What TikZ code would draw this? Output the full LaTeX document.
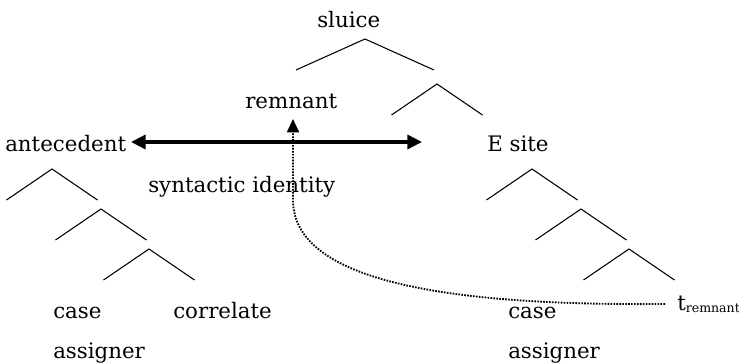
\documentclass[tikz,border=0pt]{standalone}
\usepackage{fontspec}
\setmainfont{DejaVu Serif}
\usetikzlibrary{arrows.meta}
\begin{document}
\begin{tikzpicture}[x=0.75pt,y=-0.75pt,
  txt/.style={anchor=base west, inner sep=0pt, font=\fontsize{16}{19}\selectfont},
  branch/.style={line width=0.8pt},
  idarrow/.style={line width=2.6pt,
    {Triangle[length=11pt,width=10.5pt]}-{Triangle[length=11pt,width=10.5pt]}},
  trace/.style={line width=1.4pt, dash pattern=on 1.2pt off 1pt,
    -{Triangle[length=10pt,width=9pt]}}]
\fill[white] (0,0) rectangle (739,364);
\useasboundingbox (0,0) rectangle (739,364);

% labels
\node[txt] (sluice) at (317,27) {sluice};
\node[txt] (remnant) at (245,108) {remnant};
\node[txt] (ante) at (5,151) {antecedent};
\node[txt] (esite) at (487,151) {E site};
\node[txt] (synid) at (148,192) {syntactic identity};
\node[txt] (caseL) at (53,318) {case};
\node[txt] (corr) at (173,318) {correlate};
\node[txt] (assL) at (53,358) {assigner};
\node[txt] (caseR) at (508,318) {case};
\node[txt] (assR) at (508,358) {assigner};
\node[txt] (trem) at (677,310) {t\raisebox{-1.5pt}{\fontsize{9.4}{10}\selectfont remnant}};

% tree branches
\coordinate (s0) at (365,39);
\draw[branch] (s0) ++(-69,31) -- (s0) -- ++(69,31);
\foreach \n/\x/\y in {s1/437/84, l1/52/169, l2/101/209, l3/149/249, r1/532/169, r2/581/209, r3/629/249}{
  \coordinate (\n) at (\x,\y);
  \draw[branch] (\n) ++(-45.5,31) -- (\n) -- ++(45.5,31);
}

% syntactic identity arrow
\coordinate (idL) at (131,142);
\coordinate (idR) at (422,142);
\draw[idarrow] (idL) -- (idR);

% trace
\coordinate (remTip) at (293,119);
\draw[trace, shorten <=9pt] (trem.west) .. controls (450,306) and (293,282) .. (293,200) -- (remTip);
\end{tikzpicture}
\end{document}
